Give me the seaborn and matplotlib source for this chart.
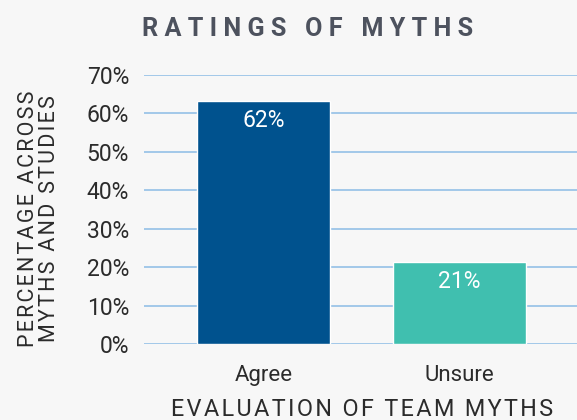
import matplotlib
matplotlib.use("Agg")
import matplotlib.pyplot as plt
import seaborn as sns

# data
categories = ["Agree", "Unsure"]
values = [63.2, 21.3]
bar_labels = ["62%", "21%"]
bar_colors = ["#00528e", "#40bfaf"]
yticks = [0, 10, 20, 30, 40, 50, 60, 70]
ytick_labels = [f"{t}%" for t in yticks]

title = "RATINGS OF MYTHS"
xlabel = "EVALUATION OF TEAM MYTHS"
ylabel = ["PERCENTAGE ACROSS", "MYTHS AND STUDIES"]


def spaced(s, gap):
    # fake letter spacing by putting a space char between letters
    return gap.join(s)


sns.set_style("white")
plt.rcParams["font.family"] = ["Roboto", "DejaVu Sans"]

bg = "#f7f7f7"
fig = plt.figure(figsize=(5.77, 4.2), dpi=100, facecolor=bg)
ax = fig.add_axes([144 / 577, 1 - 344 / 420, 1 - 144 / 577, (344 - 75) / 420])
ax.set_facecolor(bg)

sns.barplot(x=categories, y=values, hue=categories, palette=bar_colors,
            legend=False, width=0.68, saturation=1, ax=ax)

for c, lab in zip(ax.containers, bar_labels):
    ax.bar_label(c, labels=[lab], padding=-22, color="white", fontsize=16.5)

ax.set_ylim(0, 70)
ax.set_xlim(-0.613, 1.603)
ax.set_yticks(yticks)
ax.set_yticklabels(ytick_labels)
ax.yaxis.grid(True, color="#9cc5e8", linewidth=1.3)
ax.set_axisbelow(True)
ax.tick_params(axis="y", length=0, pad=10.8, labelsize=16.5, labelcolor="#2b2b2b")
ax.tick_params(axis="x", length=0, pad=15, labelsize=16, labelcolor="#2b2b2b")
ax.set_xlabel("")
ax.set_ylabel("")
sns.despine(ax=ax, left=True, bottom=True)

fig.text(307.7 / 577, 1 - 35.7 / 420, spaced(title, " "), ha="center",
         va="baseline", fontsize=18.2, fontweight="bold", color="#4d525e")
fig.text(362.5 / 577, 1 - 416 / 420, spaced(xlabel, "\u200a"), ha="center",
         va="baseline", fontsize=16.8, color="#2b2b2b")
fig.text(39 / 577, 1 - 219 / 420,
         "\n".join(spaced(s, "\u200a") for s in ylabel), rotation=90,
         ha="center", va="center", fontsize=15.5, color="#2b2b2b",
         linespacing=1.05, multialignment="center")

fig.savefig("out.png", dpi=100, facecolor=bg)
